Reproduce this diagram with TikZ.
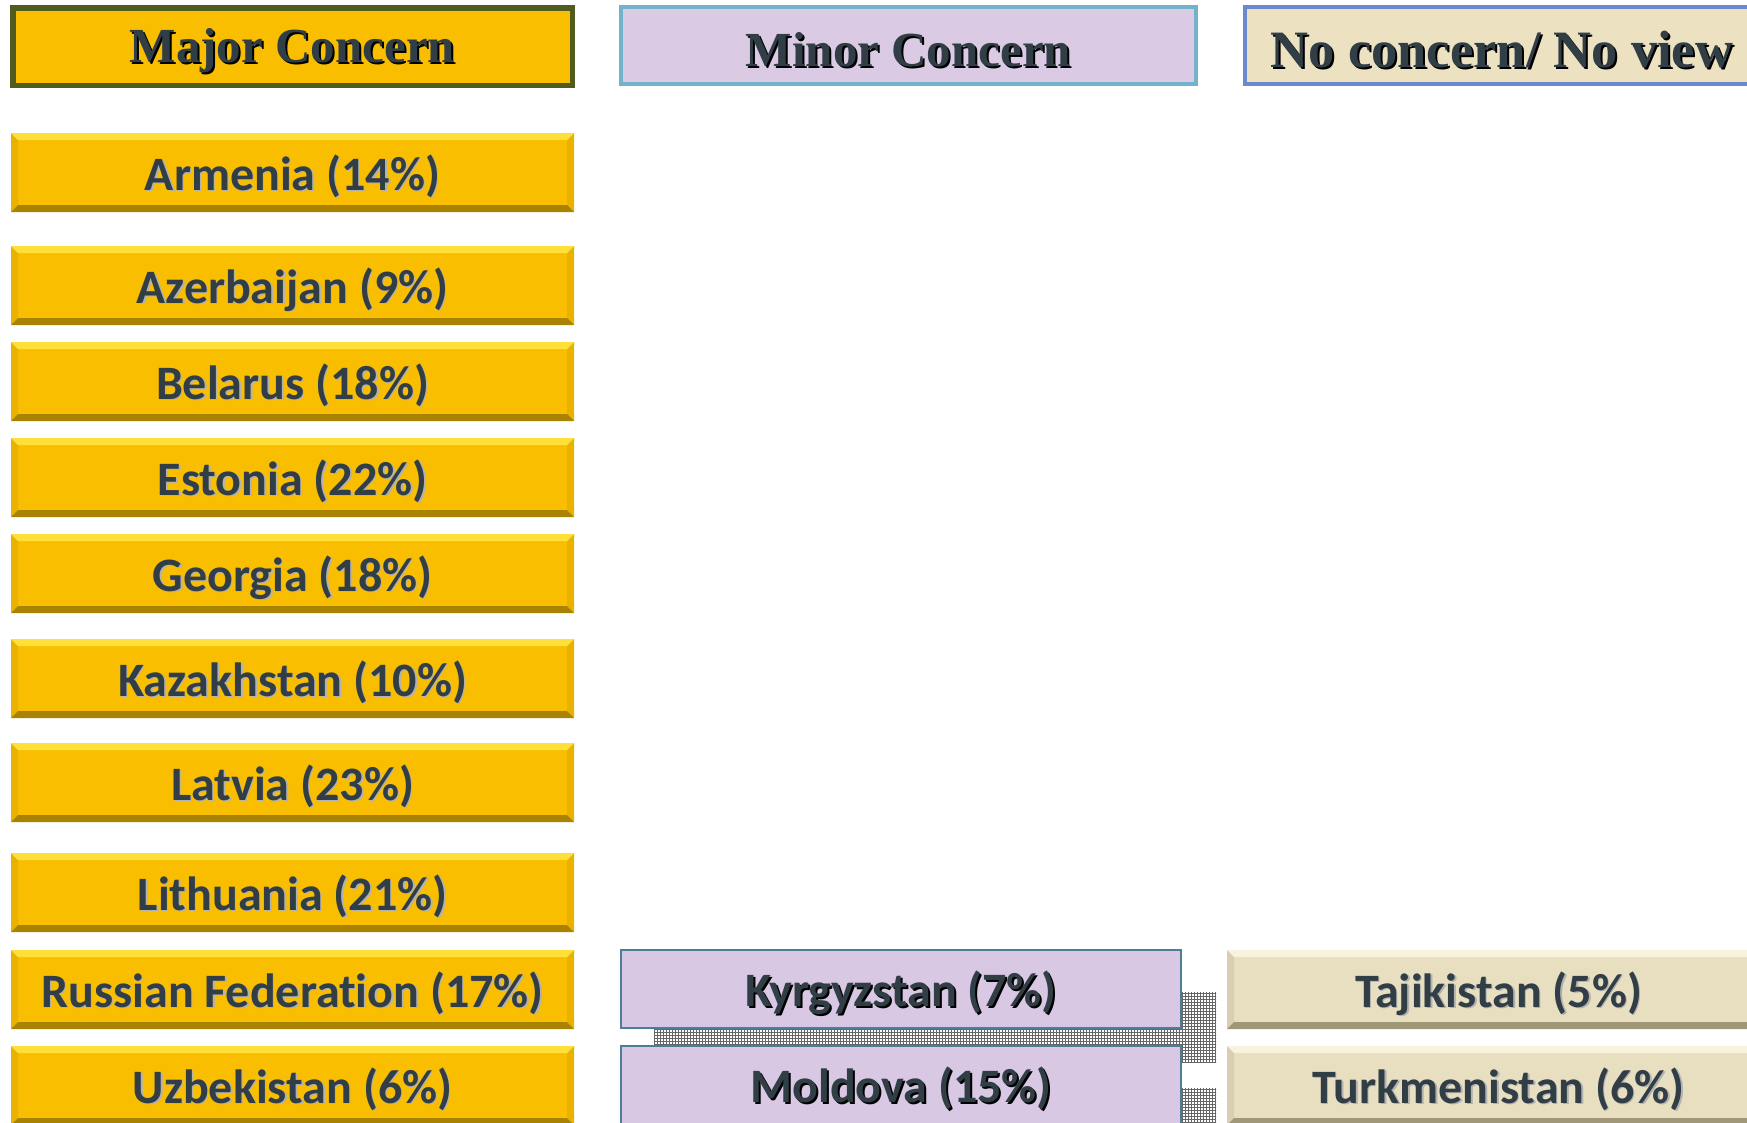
\documentclass[tikz,border=0pt]{standalone}
\usepackage{fontspec}
\usetikzlibrary{patterns}
\newfontfamily\cfont{Carlito}[Ligatures=NoCommon]
\newfontfamily\hfont{Liberation Serif}
\definecolor{txt}{HTML}{313E46}
\definecolor{gold}{HTML}{F9BE00}
\definecolor{goldhi}{HTML}{FFDF3A}
\definecolor{goldlo}{HTML}{A88200}
\definecolor{goldside}{HTML}{E9B200}
\definecolor{tan}{HTML}{E8DEC0}
\definecolor{tanhi}{HTML}{F8F2DE}
\definecolor{tanlo}{HTML}{A09779}
\definecolor{tanside}{HTML}{D8CEB0}
\definecolor{lilac}{HTML}{D9C8E3}
\definecolor{lilacedge}{HTML}{4E7D99}
\definecolor{majedge}{HTML}{4F5B1F}
\definecolor{minedge}{HTML}{72B3CB}
\definecolor{noedge}{HTML}{6B89CF}
\definecolor{nofill}{HTML}{ECE2C2}
\definecolor{minfill}{HTML}{DACAE4}
\newcommand{\shtext}[3]{{\makebox[0pt][l]{\hspace{#2}\raisebox{-#2}{\color{#1}#3}}#3}}
\newcommand{\boxtext}[3]{\raisebox{-4.5pt}[\height][\depth]{\shtext{#1}{#2}{#3}}}
\newcommand{\headtext}[1]{\raisebox{-5.5pt}[\height][\depth]{\shtext{black}{2pt}{#1}}}
\tikzset{
  bev/.style n args={4}{fill=#1, path picture={
    \coordinate (nw) at (path picture bounding box.north west);
    \coordinate (ne) at (path picture bounding box.north east);
    \coordinate (sw) at (path picture bounding box.south west);
    \coordinate (se) at (path picture bounding box.south east);
    \fill[#4] (nw) -- ([shift={(7pt,-7pt)}]nw) -- ([shift={(7pt,7pt)}]sw) -- (sw) -- cycle;
    \fill[#4] (ne) -- ([shift={(-7pt,-7pt)}]ne) -- ([shift={(-7pt,7pt)}]se) -- (se) -- cycle;
    \fill[#2] (nw) -- (ne) -- ([shift={(-7pt,-7pt)}]ne) -- ([shift={(7pt,-7pt)}]nw) -- cycle;
    \fill[#3] (sw) -- (se) -- ([shift={(-7pt,7pt)}]se) -- ([shift={(7pt,7pt)}]sw) -- cycle;
  }},
  majbox/.style={bev={gold}{goldhi}{goldlo}{goldside}, minimum width=563pt, minimum height=79pt,
    inner sep=0pt, outer sep=0pt, font=\cfont\bfseries\fontsize{48}{56}\selectfont, text=txt},
  nobox/.style={bev={tan}{tanhi}{tanlo}{tanside}, minimum width=543pt, minimum height=79pt,
    inner sep=0pt, outer sep=0pt, font=\cfont\bfseries\fontsize{48}{56}\selectfont, text=txt},
  minbox/.style={fill=lilac, draw=lilacedge, line width=1.5pt, minimum width=560pt, minimum height=78pt,
    inner sep=0pt, outer sep=0pt, font=\cfont\bfseries\fontsize{48}{56}\selectfont, text=txt},
  headbox/.style={inner sep=0pt, outer sep=0pt, font=\hfont\bfseries\fontsize{49}{56}\selectfont, text=txt},
  shadowbox/.style={fill=gray!40, pattern=grid, pattern color=gray!80!black}
}
\begin{document}
\begin{tikzpicture}[x=1pt,y=-1pt]
\useasboundingbox (0,0) rectangle (1747,1122);
\clip (0,0) rectangle (1747,1122);
% headers
\node[headbox, fill=gold, draw=majedge, line width=5.5pt, minimum width=559.5pt, minimum height=77.5pt]
  (hmaj) at (292.5,46.5) {\headtext{Major Concern}};
\node[headbox, fill=minfill, draw=minedge, line width=4pt, minimum width=575pt, minimum height=77pt]
  (hmin) at (908.5,45.5) {\headtext{Minor Concern}};
\node[headbox, fill=nofill, draw=noedge, line width=4pt, minimum width=540pt, minimum height=77pt, anchor=west]
  (hno) at (1245,45.5) {};
\node[headbox, font=\hfont\bfseries\fontsize{52.5}{58}\selectfont] (hnotext) at (1502,45.5) {\headtext{No concern/ No view}};
% major concern column
\node[majbox] (arm) at (292.5,172.5) {\boxtext{gray!60}{1.5pt}{Armenia (14\%)}};
\node[majbox] (aze) at (292.5,285.5) {\boxtext{gray!60}{1.5pt}{Azerbaijan (9\%)}};
\node[majbox] (bel) at (292.5,381.5) {\boxtext{gray!60}{1.5pt}{Belarus (18\%)}};
\node[majbox] (est) at (292.5,477.5) {\boxtext{gray!60}{1.5pt}{Estonia (22\%)}};
\node[majbox] (geo) at (292.5,573.5) {\boxtext{gray!60}{1.5pt}{Georgia (18\%)}};
\node[majbox] (kaz) at (292.5,678.5) {\boxtext{gray!60}{1.5pt}{Kazakhstan (10\%)}};
\node[majbox] (lat) at (292.5,782.5) {\boxtext{gray!60}{1.5pt}{Latvia (23\%)}};
\node[majbox] (lit) at (292.5,892.5) {\boxtext{gray!60}{1.5pt}{Lithuania (21\%)}};
\node[majbox] (rus) at (292.5,989.5) {\boxtext{gray!60}{1.5pt}{Russian Federation (17\%)}};
\node[majbox] (uzb) at (292.5,1085.5) {\boxtext{gray!60}{1.5pt}{Uzbekistan (6\%)}};
% minor concern column
\path[shadowbox] (654,992) rectangle (1216,1062);
\path[shadowbox] (654,1088) rectangle (1216,1160);
\node[minbox] (kyr) at (901,989) {\boxtext{black}{2pt}{Kyrgyzstan (7\%)}};
\node[minbox] (mol) at (901,1085) {\boxtext{black}{2pt}{Moldova (15\%)}};
% no concern column
\node[nobox] (taj) at (1498.5,989.5) {\boxtext{gray!60}{1.5pt}{Tajikistan (5\%)}};
\node[nobox] (tur) at (1498.5,1085.5) {\boxtext{gray!60}{1.5pt}{Turkmenistan (6\%)}};
\end{tikzpicture}
\end{document}
